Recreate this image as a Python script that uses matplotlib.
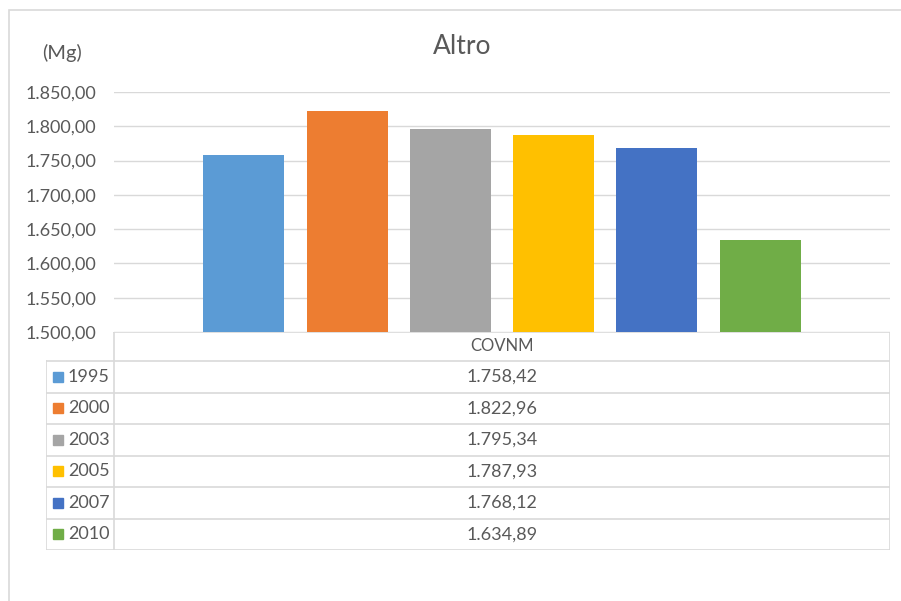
import matplotlib
matplotlib.use('Agg')
from matplotlib import pyplot as plt
from matplotlib.patches import Rectangle
import numpy as np

plt.rcParams['font.family'] = ['Lato', 'DejaVu Sans']

years = ['1995', '2000', '2003', '2005', '2007', '2010']
covnm = [1758.42, 1822.96, 1795.34, 1787.93, 1768.12, 1634.89]
colors = ['#5b9bd5', '#ed7d31', '#a5a5a5', '#ffc000', '#4472c4', '#70ad47']
category = 'COVNM'
yticks = [1500, 1550, 1600, 1650, 1700, 1750, 1800, 1850]

text_col = '#595959'
grid_col = '#d9d9d9'


def it_fmt(v):
    # italian style 1.758,42
    s = '{:,.2f}'.format(v)
    return s.replace(',', 'X').replace('.', ',').replace('X', '.')


W, H = 901, 601
fig = plt.figure(figsize=(W / 100, H / 100), dpi=100)


def fx(px):
    return px / W


def fy(py):
    return 1 - py / H


# outer chart border
fig.add_artist(Rectangle((fx(9), fy(640)), fx(950), fy(10) - fy(640),
                         transform=fig.transFigure, fill=False,
                         edgecolor=grid_col, lw=1.2))

# plot area
ax = fig.add_axes([fx(114), fy(332), fx(890) - fx(114), fy(92) - fy(332)])
n = len(years)
step = 0.1331
x = 0.5 + (np.arange(n) - (n - 1) / 2) * step
ax.bar(x, np.array(covnm) - 1500, bottom=1500, width=0.1044, color=colors, zorder=3)
ax.set_xlim(0, 1)
ax.set_ylim(1500, 1850)
ax.set_yticks(yticks)
ax.set_yticklabels([it_fmt(t) for t in yticks], fontsize=13, color=text_col)
ax.set_xticks([])
ax.tick_params(axis='y', length=0, pad=13)
ax.grid(axis='y', color=grid_col, lw=1)
for s in ax.spines.values():
    s.set_visible(False)

fig.text(fx(462), fy(47), 'Altro', fontsize=19, color=text_col, ha='center', va='center')
fig.text(fx(62), fy(53), '(Mg)', fontsize=14.5, color=text_col, ha='center', va='center')

# data table under the chart
tab = fig.add_axes([fx(46), fy(550), fx(890) - fx(46), fy(332) - fy(550)])
tab.set_xlim(46, 890)
tab.set_ylim(550, 332)
tab.axis('off')
row_edges = [332, 361, 393, 424, 456, 487, 519, 550]
lc = dict(color=grid_col, lw=1.2)
tab.plot([114, 114], [332, 550], **lc)
tab.plot([890, 890], [332, 550], **lc)
tab.plot([46, 46], [361, 550], **lc)
tab.plot([114, 890], [332, 332], **lc)
for r in row_edges[1:]:
    tab.plot([46, 890], [r, r], **lc)

tab.text(502, (row_edges[0] + row_edges[1]) / 2, category, fontsize=12,
         color=text_col, ha='center', va='center')
for i in range(n):
    yc = (row_edges[i + 1] + row_edges[i + 2]) / 2
    tab.add_patch(Rectangle((53, yc - 5), 10, 10, color=colors[i]))
    tab.text(68, yc, years[i], fontsize=13, color=text_col, ha='left', va='center')
    tab.text(502, yc, it_fmt(covnm[i]), fontsize=13, color=text_col,
             ha='center', va='center')

fig.savefig('out.png', dpi=100)
